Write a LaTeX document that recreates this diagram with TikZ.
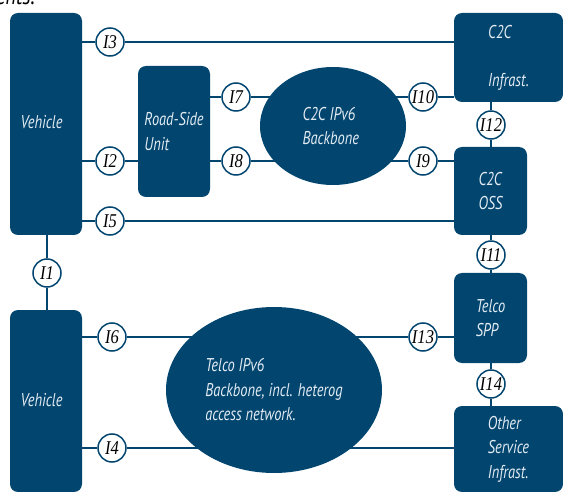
\documentclass[tikz,border=0pt]{standalone}
\usepackage{fontspec}
\newfontfamily\boxfont[FakeStretch=0.78]{PT Sans}
\newfontfamily\tagfont[FakeStretch=0.85]{Liberation Serif}
\usetikzlibrary{shapes.geometric,backgrounds}

\definecolor{netblue}{RGB}{2,70,112}
\definecolor{boxtext}{RGB}{228,236,243}

\tikzset{
  unit/.style={rectangle, rounded corners=8pt, fill=netblue, text=boxtext,
    inner sep=0pt, align=left, font=\boxfont\itshape\fontsize{18.5}{24.5}\selectfont},
  backbone/.style={ellipse, fill=netblue, text=boxtext, inner sep=0pt,
    align=left, font=\boxfont\itshape\fontsize{18.5}{24.5}\selectfont},
  iface/.style={circle, draw=netblue, line width=1.5pt, fill=white,
    minimum size=28pt, inner sep=0pt, font=\tagfont\itshape\fontsize{19.5}{19.5}\selectfont},
  link/.style={draw=netblue, line width=2.6pt}
}

\begin{document}
\begin{tikzpicture}[x=1pt,y=-1pt]
  \useasboundingbox (0,0) rectangle (563,492);

  % caption running in from above
  \node[anchor=base west, inner sep=0pt, font=\boxfont\itshape\fontsize{26}{26}\selectfont] (capt) at (-4,5) {ents.};

  % boxes
  \node[unit, minimum width=72pt, minimum height=222pt] (veh) at (46,124) {\raisebox{4pt}{Vehicle}\hspace*{9pt}};
  \node[unit, minimum width=72pt, minimum height=182pt] (vehlow) at (46,401) {\raisebox{3pt}{Vehicle}\hspace*{9pt}};
  \node[unit, minimum width=72pt, minimum height=131pt] (rsu) at (174,131.5) {Road-Side\\Unit};
  \node[unit, minimum width=109pt, minimum height=89pt] (infra) at (508.5,57.5) {C2C\\[23.5pt]Infrast.};
  \node[unit, minimum width=73pt, minimum height=88pt] (oss) at (490.5,191) {C2C\\OSS};
  \node[unit, minimum width=73pt, minimum height=90pt] (spp) at (490.5,318) {Telco\\SPP};
  \node[unit, minimum width=109pt, minimum height=86pt] (other) at (508.5,449) {Other\\Service\\Infrast.};

  % the two backbones
  \node[backbone, minimum width=146pt, minimum height=118pt] (c2cnet) at (333,126) {C2C IPv6\hspace*{8pt}\\Backbone};
  \node[backbone, minimum width=216pt, minimum height=166pt] (telconet) at (274,390) {Telco IPv6\\Backbone, incl. heterog\hspace*{6pt}\\access network.};

  % interfaces
  \node[iface] (i1) at (47,273) {I1};
  \node[iface] (i2) at (110,161) {I2};
  \node[iface] (i3) at (110,42) {I3};
  \node[iface] (i4) at (112,448) {I4};
  \node[iface] (i5) at (110,221) {I5};
  \node[iface] (i6) at (112,337) {I6};
  \node[iface] (i7) at (236,97) {I7};
  \node[iface] (i8) at (236,161) {I8};
  \node[iface] (i9) at (423,161) {I9};
  \node[iface] (i10) at (423,97) {I10};
  \node[iface] (i11) at (491,255) {I11};
  \node[iface] (i12) at (491,125) {I12};
  \node[iface] (i13) at (423,337) {I13};
  \node[iface] (i14) at (491,384) {I14};

  % links go under everything
  \begin{pgfonlayer}{background}
    \path[link] (veh.east |- i3) -- (i3) -- (infra.west |- i3);
    \path[link] (veh.east |- i2) -- (i2) -- (rsu.west |- i2);
    \path[link] (veh.east |- i5) -- (i5) -- (oss.west |- i5);
    \path[link] (rsu.east |- i7) -- (i7) -- (i10) -- (infra.west |- i10);
    \path[link] (rsu.east |- i8) -- (i8) -- (i9) -- (oss.west |- i9);
    \path[link] (infra.south -| i12) -- (i12) -- (oss.north -| i12);
    \path[link] (oss.south -| i11) -- (i11) -- (spp.north -| i11);
    \path[link] (spp.south -| i14) -- (i14) -- (other.north -| i14);
    \path[link] (veh.south -| i1) -- (i1) -- (vehlow.north -| i1);
    \path[link] (vehlow.east |- i6) -- (i6) -- (i13) -- (spp.west |- i13);
    \path[link] (vehlow.east |- i4) -- (i4) -- (other.west |- i4);
  \end{pgfonlayer}
\end{tikzpicture}
\end{document}
